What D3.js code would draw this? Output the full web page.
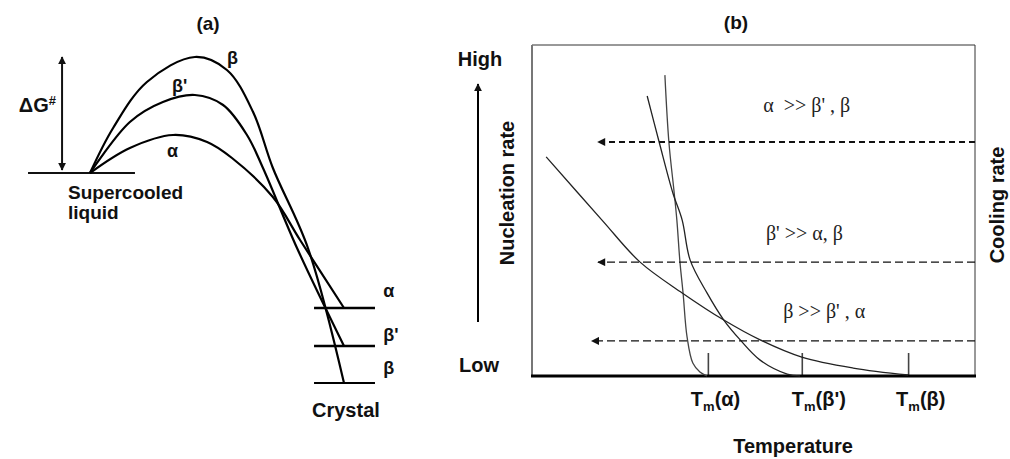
<!DOCTYPE html>
<html>
<head>
<meta charset="utf-8">
<script src="https://cdn.jsdelivr.net/npm/d3@7"></script>
<style>
  body { margin: 0; background: #fff; }
  svg { display: block; font-family: "Liberation Sans", Arial, sans-serif; }
  .lab { font-size: 20px; font-weight: bold; fill: #111; }
  .greek { font-size: 18px; font-weight: bold; fill: #111; }
  .regime { font-family: "Liberation Serif", "Times New Roman", serif; font-size: 20px; fill: #222; }
</style>
</head>
<body>
<svg id="chart" width="1010" height="459"></svg>
<script>
// ---- panel (a): free energy along the reaction path (x = reaction coord, y = G, liquid = 0)
const alphaPath = [[0, 0], [15.7, 2.5], [32.7, 3.8], [46.1, 3.1], [55.9, 1.5], [72.0, -2.4], [82.7, -6.7], [100, -13.5]];
const betaPrimePath = [[0, 0], [15.7, 5.1], [28.7, 7.1], [41.3, 7.8], [52.4, 6.8], [61.8, 3.8], [68.1, 0.5], [81.5, -7.5], [100, -17.3]];
const betaPath = [[0, 0], [9.1, 4.5], [22.4, 9.1], [41.3, 11.6], [53.9, 10.3], [64.2, 6.1], [72.0, 0.5], [85.8, -7.5], [100, -21]];
const polymorphs = ["α", "β'", "β"];
const crystalLevels = [-13.5, -17.3, -21];

// ---- panel (b): nucleation rate vs temperature (both 0-100 arbitrary units)
const alphaRate = [[30.0, 90.9], [30.9, 70.7], [32.1, 55.3], [32.7, 47.1], [33.4, 34.4], [34.1, 25.1], [35.0, 11.8], [36.3, 3.9], [37.9, 1.2], [39.5, 0]];
const betaPrimeRate = [[26.0, 84.6], [28.7, 70.7], [31.8, 55.3], [33.9, 47.1], [35.7, 35.0], [39.5, 25.1], [43.3, 16.9], [47.0, 10.9], [51.5, 4.8], [57.6, 0.6], [60.5, 0]];
const betaRate = [[3.2, 66.2], [15.8, 47.1], [24.4, 34.4], [33.9, 25.1], [43.3, 16.9], [51.5, 10.9], [60.9, 5.7], [72.5, 2.4], [84.9, 0.3]];
const meltTemps = [39.7, 60.9, 84.9];
const meltLabels = ["α", "β'", "β"];
const coolingY = [70.7, 34.4, 10.6];
const coolingTipX = [14.9, 14.9, 13.5];
const regimeLabels = ["α  >> β' , β", "β' >> α, β", "β >> β' , α"];
const regimeX = [52.2, 52.8, 56.7];
const regimeY = [79.8, 41.1, 17.5];

const svg = d3.select("#chart");

const defs = svg.append("defs");
defs.append("marker")
  .attr("id", "headA")
  .attr("viewBox", "0 0 10 10")
  .attr("refX", 9).attr("refY", 5)
  .attr("markerWidth", 4).attr("markerHeight", 4)
  .attr("markerUnits", "strokeWidth")
  .attr("orient", "auto-start-reverse")
  .append("path").attr("d", "M0,0 L10,5 L0,10 z").attr("fill", "#111");
defs.append("marker")
  .attr("id", "headB")
  .attr("viewBox", "0 0 10 10")
  .attr("refX", 9).attr("refY", 5)
  .attr("markerWidth", 9).attr("markerHeight", 8)
  .attr("markerUnits", "userSpaceOnUse")
  .attr("orient", "auto")
  .append("path").attr("d", "M0,0 L10,5 L0,10 z").attr("fill", "#111");

// ================= panel (a)
const xA = d3.scaleLinear().domain([0, 100]).range([90, 344]);
const yA = d3.scaleLinear().domain([0, 10]).range([173, 73]);
const lineA = d3.line()
  .x((d) => xA(d[0]))
  .y((d) => yA(d[1]))
  .curve(d3.curveCatmullRom.alpha(0.5));

const gA = svg.append("g");
gA.append("text").attr("class", "lab").attr("x", 208).attr("y", 30)
  .attr("text-anchor", "middle").style("font-size", "19px").text("(a)");

// supercooled liquid level
gA.append("line")
  .attr("x1", xA(-24.4)).attr("x2", xA(17.7))
  .attr("y1", yA(0)).attr("y2", yA(0))
  .attr("stroke", "#111").attr("stroke-width", 1.8);

// activation energy double arrow
const gMax = d3.max(betaPath, (d) => d[1]);
gA.append("line")
  .attr("x1", xA(-11)).attr("x2", xA(-11))
  .attr("y1", yA(0.3)).attr("y2", yA(gMax))
  .attr("stroke", "#111").attr("stroke-width", 2)
  .attr("marker-start", "url(#headA)").attr("marker-end", "url(#headA)");

const dg = gA.append("text").attr("class", "lab").attr("x", 56).attr("y", 112)
  .attr("text-anchor", "end");
dg.append("tspan").text("ΔG");
dg.append("tspan").attr("dy", -7).style("font-size", "13px").text("#");

gA.selectAll("path.barrier")
  .data([alphaPath, betaPrimePath, betaPath])
  .join("path")
  .attr("class", "barrier")
  .attr("d", lineA)
  .attr("fill", "none")
  .attr("stroke", "#000")
  .attr("stroke-width", 2.2);

// crystal levels
gA.selectAll("line.level")
  .data(crystalLevels)
  .join("line")
  .attr("class", "level")
  .attr("x1", xA(88.2)).attr("x2", xA(112.2))
  .attr("y1", (d) => yA(d)).attr("y2", (d) => yA(d))
  .attr("stroke", "#000").attr("stroke-width", (d, i) => (i == 2 ? 2 : 2.6));

gA.selectAll("text.lvl")
  .data(crystalLevels)
  .join("text")
  .attr("class", "greek lvl")
  .attr("x", xA(115.5))
  .attr("y", (d, i) => yA(d) + [-11, -5, -9][i])
  .text((d, i) => polymorphs[i]);

// peak labels
const peakLabelPos = [[30.3, 1.6], [32.3, 8.1], [53.9, 10.9]];
gA.selectAll("text.peak")
  .data(polymorphs)
  .join("text")
  .attr("class", "greek peak")
  .attr("x", (d, i) => xA(peakLabelPos[i][0]))
  .attr("y", (d, i) => yA(peakLabelPos[i][1]))
  .text((d) => d);

gA.append("text").attr("class", "lab").attr("x", 68).attr("y", 199).style("font-size", "19px").text("Supercooled");
gA.append("text").attr("class", "lab").attr("x", 68).attr("y", 219).style("font-size", "19px").text("liquid");
gA.append("text").attr("class", "lab").attr("x", 312).attr("y", 417).text("Crystal");

// ================= panel (b)
const xB = d3.scaleLinear().domain([0, 100]).range([532, 975]);
const yB = d3.scaleLinear().domain([0, 100]).range([376, 45]);
const lineB = d3.line()
  .x((d) => xB(d[0]))
  .y((d) => yB(d[1]))
  .curve(d3.curveCatmullRom.alpha(0.5));

const gB = svg.append("g");
gB.append("text").attr("class", "lab").attr("x", 736).attr("y", 29)
  .attr("text-anchor", "middle").style("font-size", "19px").text("(b)");

// frame
gB.append("line").attr("x1", xB(0)).attr("x2", xB(100)).attr("y1", yB(100)).attr("y2", yB(100))
  .attr("stroke", "#333").attr("stroke-width", 1);
gB.append("line").attr("x1", xB(100)).attr("x2", xB(100)).attr("y1", yB(100)).attr("y2", yB(0))
  .attr("stroke", "#333").attr("stroke-width", 1);
gB.append("line").attr("x1", xB(0)).attr("x2", xB(0)).attr("y1", yB(100)).attr("y2", yB(0))
  .attr("stroke", "#777").attr("stroke-width", 2);

// melting point ticks
const axisB = gB.append("g")
  .attr("transform", `translate(0,${yB(0)})`)
  .call(d3.axisBottom(xB).tickValues(meltTemps).tickSize(-23).tickFormat(""));
axisB.select(".domain").remove();
axisB.selectAll(".tick line").attr("stroke", "#444").attr("stroke-width", 1.6);

gB.append("line").attr("x1", xB(0) - 1).attr("x2", xB(100) + 1).attr("y1", yB(0)).attr("y2", yB(0))
  .attr("stroke", "#000").attr("stroke-width", 3.2);

const tm = gB.selectAll("text.tm")
  .data(meltTemps)
  .join("text")
  .attr("class", "lab tm")
  .attr("x", (d, i) => xB(d) - [17, 10, 12][i])
  .attr("y", 406);
tm.append("tspan").text("T");
tm.append("tspan").attr("dy", 5).style("font-size", "13px").text("m");
tm.append("tspan").attr("dy", -5).text((d, i) => "(" + meltLabels[i] + ")");

// nucleation rate curves
gB.selectAll("path.rate")
  .data([alphaRate, betaPrimeRate, betaRate])
  .join("path")
  .attr("class", "rate")
  .attr("d", lineB)
  .attr("fill", "none")
  .attr("stroke", (d, i) => (i == 0 ? "#444" : "#222"))
  .attr("stroke-width", 1.3);

// cooling rate arrows
gB.selectAll("line.cool")
  .data(coolingY)
  .join("line")
  .attr("class", "cool")
  .attr("x1", xB(100)).attr("x2", (d, i) => xB(coolingTipX[i]))
  .attr("y1", (d) => yB(d)).attr("y2", (d) => yB(d))
  .attr("stroke", "#111")
  .attr("stroke-width", (d, i) => (i == 0 ? 2 : 1.1))
  .attr("stroke-dasharray", (d, i) => (i == 0 ? "6,4" : "8,4"))
  .attr("marker-end", "url(#headB)");

gB.selectAll("text.regime")
  .data(regimeLabels)
  .join("text")
  .attr("class", "regime")
  .attr("x", (d, i) => xB(regimeX[i]))
  .attr("y", (d, i) => yB(regimeY[i]))
  .style("white-space", "pre")
  .text((d) => d);

// y axis annotation
gB.append("line")
  .attr("x1", 478).attr("x2", 478).attr("y1", 322).attr("y2", 84)
  .attr("stroke", "#000").attr("stroke-width", 2)
  .attr("marker-end", "url(#headA)");
gB.append("text").attr("class", "lab").attr("x", 480).attr("y", 66).attr("text-anchor", "middle").text("High");
gB.append("text").attr("class", "lab").attr("x", 479).attr("y", 372).attr("text-anchor", "middle").text("Low");
gB.append("text").attr("class", "lab")
  .attr("transform", "translate(514,193) rotate(-90)")
  .attr("text-anchor", "middle").text("Nucleation rate");
gB.append("text").attr("class", "lab")
  .attr("transform", "translate(1004,205) rotate(-90)")
  .attr("text-anchor", "middle").text("Cooling rate");
gB.append("text").attr("class", "lab").attr("x", 793).attr("y", 453)
  .attr("text-anchor", "middle").text("Temperature");
</script>
</body>
</html>
